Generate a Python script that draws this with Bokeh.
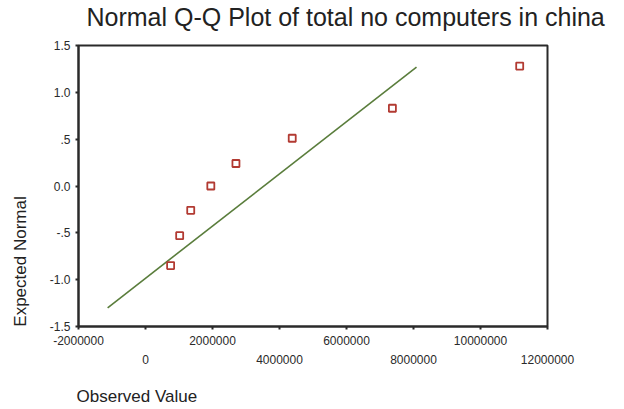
import math
from bokeh.plotting import figure
from bokeh.models import Range1d, FixedTicker, LinearAxis, Label
from bokeh.embed import file_html
from bokeh.resources import INLINE

# ---- data ----
observed = [750000, 1020000, 1350000, 1950000, 2700000, 4380000, 7370000, 11170000]
expected = [-0.85, -0.53, -0.26, 0.0, 0.24, 0.51, 0.83, 1.28]
line_x = [-1130000, 8090000]
line_y = [-1.30, 1.27]

x_ticks = [-2000000, 0, 2000000, 4000000, 6000000, 8000000, 10000000, 12000000]
x_tick_labels = ["-2000000", "0", "2000000", "4000000", "6000000", "8000000", "10000000", "12000000"]
y_ticks = [-1.5, -1.0, -0.5, 0.0, 0.5, 1.0, 1.5]
y_tick_labels = ["-1.5", "-1.0", "-.5", "0.0", ".5", "1.0", "1.5"]

title_text = "Normal Q-Q Plot of total no computers in china"
x_label = "Observed Value"
y_label = "Expected Normal"

FONT = "Liberation Sans"
DARK = "#2a2a2a"
TXT = "#222222"

p = figure(width=624, height=409, output_backend="svg", toolbar_location=None,
           x_range=Range1d(-2000000, 12000000), y_range=Range1d(-1.5, 1.5),
           x_axis_location=None, y_axis_location="left", title=None,
           min_border_left=78, min_border_right=77, min_border_top=45, min_border_bottom=83)
p.grid.visible = False
p.background_fill_color = "white"
p.border_fill_color = "white"
p.outline_line_color = DARK
p.outline_line_width = 2

# y axis
ya = p.yaxis[0]
ya.ticker = FixedTicker(ticks=y_ticks)
ya.major_label_overrides = {t: l for t, l in zip(y_ticks, y_tick_labels)}
ya.minor_tick_line_color = None
ya.major_tick_in = 0
ya.major_tick_out = 3
ya.major_tick_line_width = 2
ya.major_tick_line_color = DARK
ya.axis_line_color = DARK
ya.axis_line_width = 2
ya.major_label_standoff = 5
ya.major_label_text_font = FONT
ya.major_label_text_font_size = "12px"
ya.major_label_text_color = DARK

# x axes (staggered labels)
row1 = {t: (l if i % 2 == 0 else "") for i, (t, l) in enumerate(zip(x_ticks, x_tick_labels))}
row2 = {t: l for i, (t, l) in enumerate(zip(x_ticks, x_tick_labels)) if i % 2 == 1}

xa1 = LinearAxis(ticker=FixedTicker(ticks=x_ticks), major_label_overrides=row1)
xa1.minor_tick_line_color = None
xa1.major_tick_in = 0
xa1.major_tick_out = 3
xa1.major_tick_line_width = 2
xa1.major_tick_line_color = DARK
xa1.axis_line_color = DARK
xa1.axis_line_width = 2
xa1.major_label_standoff = 6
xa1.major_label_text_font = FONT
xa1.major_label_text_font_size = "12px"
xa1.major_label_text_color = DARK

xa2 = LinearAxis(ticker=FixedTicker(ticks=list(row2.keys())), major_label_overrides=row2)
xa2.minor_tick_line_color = None
xa2.major_tick_line_color = None
xa2.axis_line_color = None
xa2.major_tick_in = 0
xa2.major_tick_out = 0
xa2.major_label_standoff = 7
xa2.major_label_text_font = FONT
xa2.major_label_text_font_size = "12px"
xa2.major_label_text_color = DARK

p.add_layout(xa1, "below")
p.add_layout(xa2, "below")

# reference line and points
p.line(line_x, line_y, line_color="#5a7d3c", line_width=1.6)
p.scatter(observed, expected, marker="square", size=7, line_color="#b23a32",
          line_width=1.8, fill_color="white")

# texts placed in the side panels (they do not take layout space)
p.add_layout(Label(x=8, y=29, x_units="screen", y_units="screen", text=title_text,
                   text_font=FONT, text_font_size="25px", text_color=TXT,
                   text_baseline="alphabetic", text_align="left"), "above")
p.add_layout(Label(x=-2, y=-11, x_units="screen", y_units="screen", text=x_label,
                   text_font=FONT, text_font_size="17px", text_color=TXT,
                   text_baseline="alphabetic", text_align="left"), "below")
p.add_layout(Label(x=-7, y=65, x_units="screen", y_units="screen", text=y_label,
                   text_font=FONT, text_font_size="17px", text_color=TXT,
                   text_baseline="middle", text_align="center", angle=math.pi / 2), "left")

open("out.html", "w").write(file_html(p, INLINE))
